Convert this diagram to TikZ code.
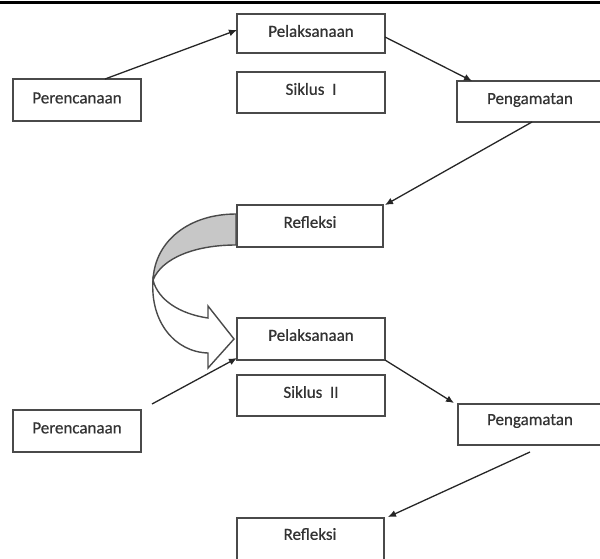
\documentclass[tikz,border=0pt]{standalone}
\usepackage{fontspec}
\setmainfont[FakeBold=0.6]{Carlito}
\usetikzlibrary{arrows.meta}
\definecolor{boxline}{HTML}{4a4a4a}
\definecolor{txt}{HTML}{333333}
\begin{document}
\begin{tikzpicture}[x=1pt,y=-1pt,
  boxstyle/.style={draw=boxline,line width=1.8pt,fill=white},
  lbl/.style={font=\fontsize{17}{20}\selectfont,text=txt,inner sep=0pt},
  conn/.style={draw=black!85,line width=1.3pt,-{Latex[length=8pt,width=7pt]}}]
\useasboundingbox (0,0) rectangle (600,558);
\fill[black] (0,0.5) rectangle (600,4);
% boxes
\draw[boxstyle] (13,79) rectangle (141,121);
\draw[boxstyle] (237,14) rectangle (385,53);
\draw[boxstyle] (237,72) rectangle (385,113);
\draw[boxstyle] (457,81) rectangle (604,122);
\draw[boxstyle] (237,205) rectangle (383,247);
\draw[boxstyle] (237,318) rectangle (385,360);
\draw[boxstyle] (237,375) rectangle (385,416);
\draw[boxstyle] (13,410) rectangle (141,452);
\draw[boxstyle] (458,404) rectangle (604,445);
\draw[boxstyle] (237,518) rectangle (384,570);
% labels
\node[lbl] (per1) at (77,98) {Perencanaan};
\node[lbl] (pel1) at (311,31) {Pelaksanaan};
\node[lbl] (sik1) at (311,89) {Siklus\ \ I};
\node[lbl] (pen1) at (530,100) {Pengamatan};
\node[lbl] (ref1) at (310,222) {Refleksi};
\node[lbl] (pel2) at (311,335) {Pelaksanaan};
\node[lbl] (sik2) at (311,392) {Siklus\ \ II};
\node[lbl] (per2) at (77,428) {Perencanaan};
\node[lbl] (pen2) at (530,421) {Pengamatan};
\node[lbl] (ref2) at (310,534) {Refleksi};
% connector end points
\coordinate (a1s) at (105,79);  \coordinate (a1e) at (237,30);
\coordinate (a2s) at (385,37);  \coordinate (a2e) at (472,81);
\coordinate (a3s) at (532,122); \coordinate (a3e) at (385,205);
\coordinate (a4s) at (152,404); \coordinate (a4e) at (237,358);
\coordinate (a5s) at (385,360); \coordinate (a5e) at (454,403);
\coordinate (a6s) at (530,452); \coordinate (a6e) at (388,517);
\draw[conn] (a1s) -- (a1e);
\draw[conn] (a2s) -- (a2e);
\draw[conn] (a3s) -- (a3e);
\draw[conn] (a4s) -- (a4e);
\draw[conn] (a5s) -- (a5e);
\draw[conn] (a6s) -- (a6e);
% curved block arrow
\draw[boxline,line width=1.4pt,fill=black!22]
  (236,214) .. controls (190,214) and (155,240) .. (153,280)
  .. controls (162,258) and (195,245) .. (236,245) -- cycle;
\draw[boxline,line width=1.4pt,fill=white]
  (153,280) .. controls (150,322) and (175,352) .. (208,353)
  -- (208,368) -- (234,339) -- (208,306) -- (208,318)
  .. controls (180,314) and (158,300) .. (153,280) -- cycle;
\end{tikzpicture}
\end{document}
